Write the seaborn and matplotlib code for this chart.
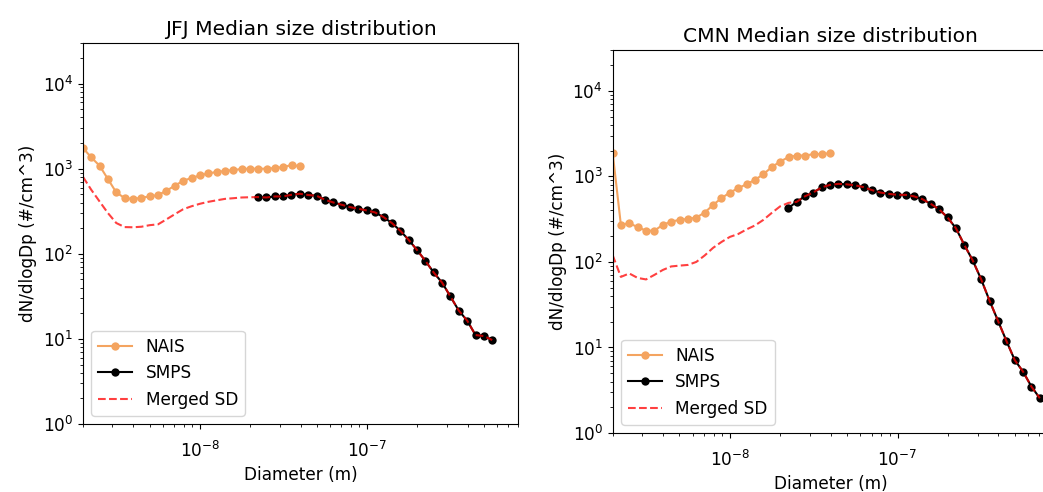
"""
Median particle size distributions at JFJ and CMN: NAIS, SMPS and the merged SD.
"""

import numpy as np
import matplotlib.pyplot as plt
import seaborn as sns

# Bin mid-point diameters (nm)
NAIS_DP = [2.0, 2.239, 2.512, 2.818, 3.162, 3.548, 3.981, 4.467, 5.012, 5.623,
           6.310, 7.079, 7.943, 8.913, 10.0, 11.22, 12.59, 14.13, 15.85, 17.78,
           19.95, 22.39, 25.12, 28.18, 31.62, 35.48, 39.81]
SMPS_DP = [22.3, 25.0, 28.0, 31.4, 35.3, 39.6, 44.4, 49.9, 56.0, 62.8,
           70.5, 79.1, 88.8, 99.6, 111.8, 125.4, 140.7, 157.9, 177.2, 198.8,
           223.1, 250.3, 280.9, 315.2, 353.7, 396.9, 445.4, 499.8, 560.8, 629.3,
           706.1]

# JFJ medians, dN/dlogDp (#/cm^3)
JFJ_NAIS = [1750, 1358, 1085, 756, 526, 452, 440, 456, 472, 491,
            551, 631, 722, 778, 834, 881, 915, 940, 966, 991,
            1000, 1000, 1000, 1019, 1047, 1106, 1064]
JFJ_SMPS = [464, 459, 472, 472, 494, 508, 491, 481, 432, 401,
            377, 354, 338, 323, 306, 270, 230, 187, 146, 111,
            82.7, 60.3, 45.9, 31.5, 21.5, 16.4, 11.1, 10.8, 9.7]
# merged SD below the SMPS range (on the NAIS grid)
JFJ_MERGED_LOW = [800, 566, 412, 301, 230, 206, 205, 208, 217, 222,
                  254, 292, 334, 362, 387, 408, 425, 442, 450, 459, 462]

# CMN medians, dN/dlogDp (#/cm^3)
CMN_NAIS = [1883, 271, 284, 255, 232, 232, 271, 296, 310, 318,
            330, 377, 464, 556, 647, 728, 811, 910, 1062, 1282,
            1490, 1678, 1752, 1752, 1820, 1820, 1868]
CMN_SMPS = [425, 503, 584, 647, 744, 795, 817, 806, 785, 748,
            690, 647, 624, 608, 608, 584, 541, 477, 411, 331,
            247, 158, 104, 62.8, 35.3, 20.6, 12.0, 7.14, 5.21, 3.48,
            2.55]
CMN_MERGED_LOW = [120, 66.8, 73.3, 65.0, 62.4, 70.5, 80.5, 88.5, 90.5, 92.2,
                  100, 119, 146, 171, 196, 212, 240, 267, 310, 374,
                  446, 490]

XLIM = (2e-9, 8e-7)
YLIM = (1, 3e4)

plt.rcParams.update({
    "font.size": 12.2,
    "axes.titlesize": 14.6,
    "axes.labelsize": 12.2,
    "xtick.labelsize": 12.2,
    "ytick.labelsize": 12.2,
    "legend.fontsize": 12.2,
})


def plot_station(ax, title, nais, smps, merged_dp, merged):
    ax.set_xscale("log")
    ax.set_yscale("log")

    nais_dp = np.array(NAIS_DP[:len(nais)]) * 1e-9
    smps_dp = np.array(SMPS_DP[:len(smps)]) * 1e-9

    sns.lineplot(x=nais_dp, y=nais, ax=ax, color="sandybrown", marker="o",
                 markersize=6, markeredgecolor="sandybrown", markeredgewidth=0,
                 linewidth=1.5, label="NAIS")
    sns.lineplot(x=smps_dp, y=smps, ax=ax, color="black", marker="o",
                 markersize=6, markeredgecolor="black", markeredgewidth=0,
                 linewidth=1.5, label="SMPS")
    sns.lineplot(x=np.array(merged_dp) * 1e-9, y=merged, ax=ax, color="red",
                 alpha=0.75, linestyle="--", linewidth=1.5, label="Merged SD")

    ax.set_xlim(*XLIM)
    ax.set_ylim(*YLIM)
    ax.tick_params(axis="x", which="major", pad=8.5)
    ax.set_title(title)
    ax.set_xlabel("Diameter (m)")
    ax.set_ylabel("dN/dlogDp (#/cm^3)")
    ax.legend(loc="lower left")


fig = plt.figure(figsize=(10.43, 4.92), dpi=100)
ax_jfj = fig.add_axes([0.0796, 0.1382, 0.4171, 0.7744])
ax_cmn = fig.add_axes([0.5874, 0.1199, 0.4183, 0.7785])

plot_station(ax_jfj, "JFJ Median size distribution", JFJ_NAIS, JFJ_SMPS,
             NAIS_DP[:21] + SMPS_DP[:len(JFJ_SMPS)],
             JFJ_MERGED_LOW + JFJ_SMPS)
plot_station(ax_cmn, "CMN Median size distribution", CMN_NAIS, CMN_SMPS,
             NAIS_DP[:22] + SMPS_DP[1:],
             CMN_MERGED_LOW + CMN_SMPS[1:])

fig.savefig("out.png", dpi=100)
plt.close(fig)
